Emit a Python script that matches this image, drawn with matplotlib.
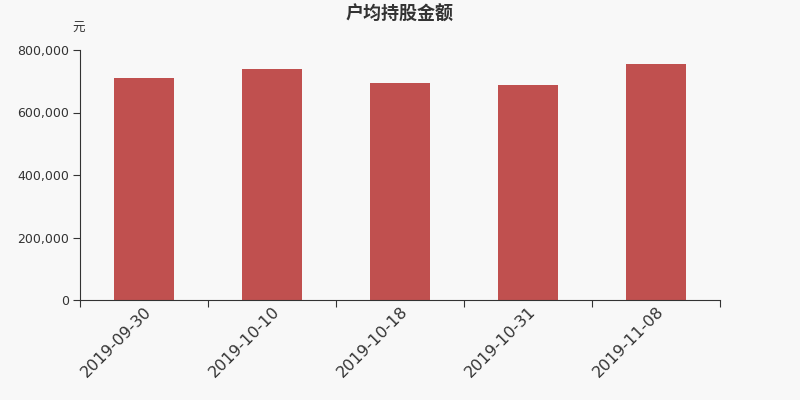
import matplotlib
matplotlib.use('Agg')
import matplotlib.pyplot as plt
import numpy as np

plt.rcParams['font.family'] = ['Noto Sans CJK SC', 'DejaVu Sans']

dates = ['2019-09-30', '2019-10-10', '2019-10-18', '2019-10-31', '2019-11-08']
amounts = [710400, 740800, 694400, 688000, 756200]

BG = '#f8f8f8'
BAR = '#c0504f'
TXT = '#333333'

fig = plt.figure(figsize=(8, 4), dpi=100, facecolor=BG)
ax = fig.add_axes([0.1, 0.25, 0.8, 0.625], facecolor=BG)

x = np.arange(len(dates))
ax.bar(x, amounts, width=0.47, color=BAR, zorder=2)

ax.set_xlim(-0.5, len(dates) - 0.5)
ax.set_ylim(0, 800000)
yt = [0, 200000, 400000, 600000, 800000]
ax.set_yticks(yt)
ax.set_yticklabels([f'{v:,}' for v in yt], fontsize=9, color=TXT, family='DejaVu Sans')

# major ticks on category boundaries, labels on minor ticks at centres
ax.set_xticks(np.arange(len(dates) + 1) - 0.5)
ax.set_xticklabels([])
ax.set_xticks(x, minor=True)
ax.set_xticklabels(dates, minor=True, rotation=45, ha='right', va='top',
                   rotation_mode='anchor', fontsize=11.5, color=TXT, family='DejaVu Sans')
ax.tick_params(axis='x', which='minor', length=0, pad=3)
ax.tick_params(axis='x', which='major', length=5, color=TXT)
ax.tick_params(axis='y', length=5, color=TXT, pad=3)

for s in ('top', 'right'):
    ax.spines[s].set_visible(False)
for s in ('left', 'bottom'):
    ax.spines[s].set_color(TXT)

fig.text(0.5, 0.965, '户均持股金额', ha='center', va='center', fontsize=13,
         fontweight='bold', color=TXT)
fig.text(0.09, 0.93, '元', ha='left', va='center', fontsize=9, color=TXT)

fig.savefig('out.png', dpi=100, facecolor=BG)
